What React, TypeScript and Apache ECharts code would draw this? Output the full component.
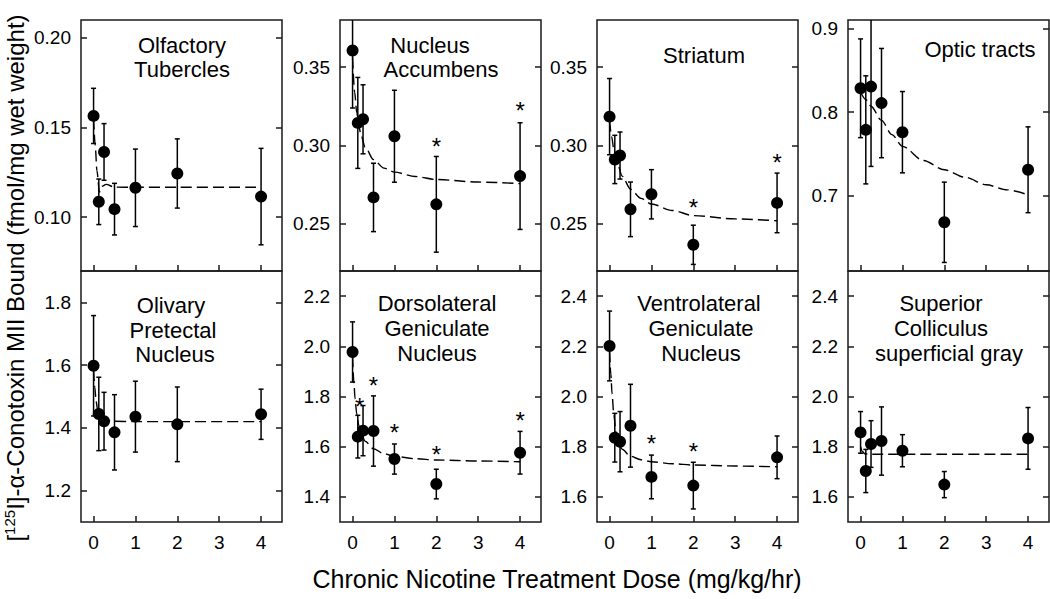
import React, { useEffect, useRef } from "react";
import * as echarts from "echarts";

const FONT = '"Liberation Sans", Arial, Helvetica, sans-serif';

// Doses (mg/kg/hr) and axis ticks
const doses = [0, 0.125, 0.25, 0.5, 1, 2, 4];
const xTicks = [0, 1, 2, 3, 4];

// Olfactory Tubercles
const olfMean = [0.1565, 0.1086, 0.1364, 0.1045, 0.1164, 0.1244, 0.1115];
const olfErr = [0.0154, 0.0127, 0.0158, 0.0144, 0.0216, 0.0193, 0.0269];
const olfStars: number[][] = [];
const olfCurveX = [0, 0.04, 0.08, 0.14, 0.2, 0.3, 0.5, 1, 2, 4];
const olfCurveY = [0.155, 0.14, 0.126, 0.114, 0.1172, 0.1183, 0.1168, 0.1167, 0.1167, 0.1167];
const olfTicks = [0.1, 0.15, 0.2];

// Nucleus Accumbens
const accMean = [0.3606, 0.3144, 0.3167, 0.2669, 0.3059, 0.2625, 0.2805];
const accErr = [0.0367, 0.029, 0.022, 0.0218, 0.0293, 0.0305, 0.034];
const accStars = [[2, 0.3008], [4, 0.3235]];
const accCurveX = [0, 0.05, 0.1, 0.15, 0.2, 0.3, 0.5, 0.75, 1, 1.5, 2, 3, 4];
const accCurveY = [0.356, 0.334, 0.321, 0.3126, 0.3067, 0.299, 0.291, 0.2856, 0.283, 0.2802, 0.2783, 0.2767, 0.2757];
const accTicks = [0.25, 0.3, 0.35];

// Striatum
const strMean = [0.3184, 0.2911, 0.2936, 0.2593, 0.2689, 0.2367, 0.2634];
const strErr = [0.0243, 0.0154, 0.015, 0.0174, 0.0157, 0.0125, 0.019];
const strStars = [[2, 0.2617], [4, 0.2903]];
const strCurveX = [0, 0.05, 0.1, 0.2, 0.3, 0.5, 0.75, 1, 1.5, 2, 3, 4];
const strCurveY = [0.316, 0.3056, 0.2979, 0.2874, 0.2805, 0.2722, 0.2663, 0.2627, 0.2586, 0.2553, 0.2532, 0.252];
const strTicks = [0.25, 0.3, 0.35];

// Optic tracts
const optMean = [0.8284, 0.7787, 0.8304, 0.8107, 0.7759, 0.6682, 0.731];
const optErr = [0.059, 0.0646, 0.0954, 0.0653, 0.0486, 0.048, 0.0513];
const optStars: number[][] = [];
const optCurveX = [0, 0.125, 0.25, 0.5, 0.75, 1, 1.5, 2, 2.5, 3, 3.5, 4];
const optCurveY = [0.824, 0.815, 0.807, 0.79, 0.773, 0.759, 0.742, 0.731, 0.722, 0.713, 0.707, 0.701];
const optTicks = [0.7, 0.8, 0.9];

// Olivary Pretectal Nucleus
const olpMean = [1.5979, 1.4444, 1.4213, 1.3858, 1.4358, 1.4113, 1.4433];
const olpErr = [0.16, 0.117, 0.092, 0.12, 0.113, 0.119, 0.08];
const olpStars: number[][] = [];
const olpCurveX = [0, 0.03, 0.06, 0.1, 0.15, 0.25, 0.5, 1, 2, 4];
const olpCurveY = [1.585, 1.53, 1.485, 1.455, 1.437, 1.425, 1.421, 1.42, 1.42, 1.42];
const olpTicks = [1.2, 1.4, 1.6, 1.8];

// Dorsolateral Geniculate Nucleus
const dlgMean = [1.9774, 1.64, 1.664, 1.6625, 1.5508, 1.4512, 1.576];
const dlgErr = [0.12, 0.085, 0.1, 0.14, 0.06, 0.059, 0.085];
const dlgStars = [[0.17, 1.769], [0.5, 1.8525], [1, 1.6664], [2, 1.576], [4, 1.713]];
const dlgCurveX = [0, 0.03, 0.06, 0.1, 0.15, 0.2, 0.3, 0.5, 0.75, 1, 1.5, 2, 3, 4];
const dlgCurveY = [1.96, 1.86, 1.79, 1.73, 1.685, 1.655, 1.622, 1.592, 1.572, 1.562, 1.552, 1.547, 1.543, 1.54];
const dlgTicks = [1.4, 1.6, 1.8, 2.0, 2.2];

// Ventrolateral Geniculate Nucleus
const vlgMean = [2.2013, 1.8358, 1.82, 1.8836, 1.6796, 1.645, 1.7576];
const vlgErr = [0.139, 0.097, 0.12, 0.165, 0.087, 0.093, 0.085];
const vlgStars = [[1, 1.82], [2, 1.79]];
const vlgCurveX = [0, 0.03, 0.06, 0.1, 0.15, 0.2, 0.3, 0.5, 0.75, 1, 1.5, 2, 3, 4];
const vlgCurveY = [2.18, 2.09, 2.01, 1.93, 1.86, 1.825, 1.79, 1.762, 1.748, 1.74, 1.732, 1.727, 1.723, 1.72];
const vlgTicks = [1.6, 1.8, 2.0, 2.2, 2.4];

// Superior Colliculus superficial gray
const scsMean = [1.857, 1.7032, 1.8106, 1.8226, 1.784, 1.649, 1.8331];
const scsErr = [0.083, 0.086, 0.093, 0.136, 0.064, 0.052, 0.123];
const scsStars: number[][] = [];
const scsCurveX = [0, 0.05, 0.1, 0.2, 0.5, 1, 2, 4];
const scsCurveY = [1.8, 1.78, 1.772, 1.77, 1.77, 1.77, 1.77, 1.77];
const scsTicks = [1.6, 1.8, 2.0, 2.2, 2.4];

const xTitle = "Chronic Nicotine Treatment Dose (mg/kg/hr)";

type Panel = {
  mean: number[]; err: number[]; stars: number[][]; cx: number[]; cy: number[];
  min: number; max: number; ticks: number[]; dec: number;
  title: [string, number, number][];
};

const panels: Panel[] = [
  { mean: olfMean, err: olfErr, stars: olfStars, cx: olfCurveX, cy: olfCurveY, min: 0.07, max: 0.21, ticks: olfTicks, dec: 2,
    title: [["Olfactory", 182, 45], ["Tubercles", 182, 69]] },
  { mean: accMean, err: accErr, stars: accStars, cx: accCurveX, cy: accCurveY, min: 0.22, max: 0.38, ticks: accTicks, dec: 2,
    title: [["Nucleus", 430, 45], ["Accumbens", 441, 69]] },
  { mean: strMean, err: strErr, stars: strStars, cx: strCurveX, cy: strCurveY, min: 0.22, max: 0.38, ticks: strTicks, dec: 2,
    title: [["Striatum", 704, 55]] },
  { mean: optMean, err: optErr, stars: optStars, cx: optCurveX, cy: optCurveY, min: 0.61, max: 0.91, ticks: optTicks, dec: 1,
    title: [["Optic tracts", 980, 49]] },
  { mean: olpMean, err: olpErr, stars: olpStars, cx: olpCurveX, cy: olpCurveY, min: 1.1, max: 1.9, ticks: olpTicks, dec: 1,
    title: [["Olivary", 171, 305], ["Pretectal", 173, 330], ["Nucleus", 175, 354]] },
  { mean: dlgMean, err: dlgErr, stars: dlgStars, cx: dlgCurveX, cy: dlgCurveY, min: 1.3, max: 2.3, ticks: dlgTicks, dec: 1,
    title: [["Dorsolateral", 437, 303], ["Geniculate", 437, 328], ["Nucleus", 437, 353]] },
  { mean: vlgMean, err: vlgErr, stars: vlgStars, cx: vlgCurveX, cy: vlgCurveY, min: 1.5, max: 2.5, ticks: vlgTicks, dec: 1,
    title: [["Ventrolateral", 699, 303], ["Geniculate", 701, 328], ["Nucleus", 701, 353]] },
  { mean: scsMean, err: scsErr, stars: scsStars, cx: scsCurveX, cy: scsCurveY, min: 1.5, max: 2.5, ticks: scsTicks, dec: 1,
    title: [["Superior", 941, 303], ["Colliculus", 941, 328], ["superficial gray", 949, 353]] },
];

const colLefts = [81, 340, 597, 848];
const rowTops = [20, 271];
const PW = 201;
const PH = 251;

export default function App() {
  const ref = useRef<HTMLDivElement>(null);
  useEffect(() => {
    document.body.style.margin = "0";
    const chart = echarts.init(ref.current!, null, { renderer: "svg" });
    const grid: any[] = [];
    const xAxis: any[] = [];
    const yAxis: any[] = [];
    const series: any[] = [];
    const graphic: any[] = [];

    panels.forEach((p, i) => {
      const r = Math.floor(i / 4);
      const c = i % 4;
      grid.push({
        left: colLefts[c], top: rowTops[r], width: PW, height: PH,
        show: true, borderColor: "#1a1a1a", borderWidth: 1.5, backgroundColor: "transparent",
      });
      xAxis.push({
        type: "value", gridIndex: i, min: -0.3, max: 4.5, position: "bottom",
        axisLine: { show: false, onZero: false },
        splitLine: { show: false },
        axisTick: { show: true, inside: true, length: 6, customValues: xTicks, lineStyle: { color: "#1a1a1a", width: 1.5 } },
        axisLabel: { show: r === 1, customValues: xTicks, fontSize: 19, color: "#000", fontFamily: FONT, margin: 11 },
      });
      const yBase = {
        type: "value", gridIndex: i, min: p.min, max: p.max,
        axisLine: { show: false, onZero: false },
        splitLine: { show: false },
        axisTick: { show: true, inside: true, length: 6, customValues: p.ticks, lineStyle: { color: "#1a1a1a", width: 1.5 } },
      };
      yAxis.push({
        ...yBase, position: "left",
        axisLabel: {
          show: true, customValues: p.ticks, fontSize: 19, color: "#000", fontFamily: FONT, margin: 10,
          formatter: (v: number) => v.toFixed(p.dec),
        },
      });
      yAxis.push({ ...yBase, position: "right", axisLabel: { show: false } });

      const yi = i * 2;
      series.push({
        type: "line", xAxisIndex: i, yAxisIndex: yi,
        data: p.cx.map((x, j) => [x, p.cy[j]]),
        showSymbol: false, symbol: "none", smooth: 0.3, smoothMonotone: "x",
        lineStyle: { color: "#000", width: 1.4, type: [11, 5] },
        z: 2, silent: true,
      });
      series.push({
        type: "custom", xAxisIndex: i, yAxisIndex: yi,
        data: doses.map((d, j) => [d, p.mean[j] - p.err[j], p.mean[j] + p.err[j]]),
        renderItem: (params: any, api: any) => {
          const x = api.value(0);
          const lo = api.coord([x, api.value(1)]);
          const hi = api.coord([x, api.value(2)]);
          const cs = params.coordSys;
          const top = cs.y;
          const bottom = cs.y + cs.height;
          const yTop = Math.max(hi[1], top);
          const yBot = Math.min(lo[1], bottom);
          const st = { stroke: "#000", lineWidth: 1.5 };
          const children: any[] = [
            { type: "line", shape: { x1: lo[0], y1: yBot, x2: lo[0], y2: yTop }, style: st },
          ];
          const cap = 2.5;
          if (hi[1] >= top) children.push({ type: "line", shape: { x1: hi[0] - cap, y1: hi[1], x2: hi[0] + cap, y2: hi[1] }, style: st });
          if (lo[1] <= bottom) children.push({ type: "line", shape: { x1: lo[0] - cap, y1: lo[1], x2: lo[0] + cap, y2: lo[1] }, style: st });
          return { type: "group", children };
        },
        z: 3, silent: true,
      });
      series.push({
        type: "scatter", xAxisIndex: i, yAxisIndex: yi,
        data: doses.map((d, j) => [d, p.mean[j]]),
        symbol: "circle", symbolSize: 12,
        itemStyle: { color: "#000", opacity: 1 },
        z: 4, silent: true,
      });
      if (p.stars.length) {
        series.push({
          type: "custom", xAxisIndex: i, yAxisIndex: yi,
          data: p.stars,
          renderItem: (_params: any, api: any) => {
            const pt = api.coord([api.value(0), api.value(1)]);
            return {
              type: "text", x: pt[0], y: pt[1] + 2,
              style: { text: "*", fontSize: 24, fontFamily: FONT, fill: "#000", align: "center", verticalAlign: "middle" },
            };
          },
          z: 5, silent: true,
        });
      }
      p.title.forEach(([t, x, y]) => {
        graphic.push({
          type: "text", x, y,
          style: { text: t, fontSize: 22, fontFamily: FONT, fill: "#000", align: "center", verticalAlign: "middle" },
        });
      });
    });

    graphic.push({
      type: "text", x: 557, y: 579,
      style: { text: xTitle, fontSize: 25, fontFamily: FONT, fill: "#000", align: "center", verticalAlign: "middle" },
    });
    graphic.push({
      type: "text", x: 15, y: 278, rotation: Math.PI / 2,
      style: {
        text: "[{sup|125}I]-α-Conotoxin MII Bound (fmol/mg wet weight)",
        fontSize: 24, fontFamily: FONT, fill: "#000", align: "center", verticalAlign: "middle",
        lineHeight: 26,
        rich: { sup: { fontSize: 15, fontFamily: FONT, fill: "#000", verticalAlign: "top", lineHeight: 15 } },
      },
    });

    chart.setOption({
      animation: false,
      backgroundColor: "#fff",
      grid, xAxis, yAxis, series, graphic,
    });
    return () => chart.dispose();
  }, []);
  return <div ref={ref} style={{ width: 1050, height: 599, position: "absolute", left: 0, top: 0 }} />;
}
